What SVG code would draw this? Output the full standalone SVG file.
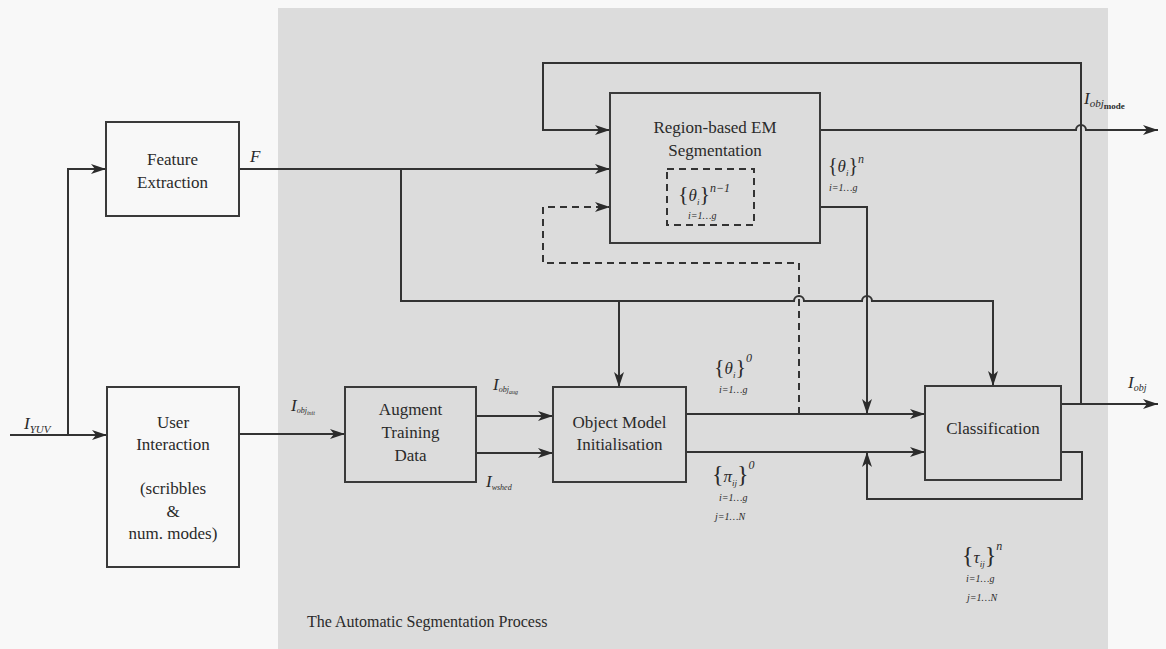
<svg xmlns="http://www.w3.org/2000/svg" width="1166" height="649" viewBox="0 0 1166 649">
<defs>
<marker id="arr" markerUnits="userSpaceOnUse" markerWidth="16" markerHeight="10" refX="15" refY="5" orient="auto">
<path d="M0,0 L15,5 L0,10 L4,5 z" fill="#2b2b2b"/>
</marker>
<style>
.box{fill:none;stroke:#3a3a3a;stroke-width:2}
.ln{fill:none;stroke:#333;stroke-width:2}
.dash{fill:none;stroke:#333;stroke-width:2;stroke-dasharray:7,5}
text{font-family:"Liberation Serif","DejaVu Serif","Times New Roman",serif;fill:#2a2a2a}
.t{font-size:17px;text-anchor:middle}
.m{font-style:italic;font-size:17px}
.s{font-style:italic;font-size:10px}
.cap{font-size:16px}
</style>
</defs>
<rect width="1166" height="649" fill="#f8f8f8"/>
<rect x="278" y="8" width="830" height="641" fill="#dcdcdc"/>

<g id="connectors">
<path class="ln" d="M10,435 H107" marker-end="url(#arr)"/>
<path class="ln" d="M68,435 V169 H106" marker-end="url(#arr)"/>
<path class="ln" d="M239,169 H610" marker-end="url(#arr)"/>
<path class="ln" d="M401,169 V301 H794 a5,5 0 0 1 10,0 H862 a5,5 0 0 1 10,0 H993 V386" marker-end="url(#arr)"/>
<path class="ln" d="M619,301 V387" marker-end="url(#arr)"/>
<path class="ln" d="M239,434 H345" marker-end="url(#arr)"/>
<path class="ln" d="M476,416 H553" marker-end="url(#arr)"/>
<path class="ln" d="M476,453 H553" marker-end="url(#arr)"/>
<path class="ln" d="M686,414 H925" marker-end="url(#arr)"/>
<path class="ln" d="M686,452 H925" marker-end="url(#arr)"/>
<path class="ln" d="M1061,404 H1158" marker-end="url(#arr)"/>
<path class="ln" d="M1081,404 V63 H543 V130 H610" marker-end="url(#arr)"/>
<path class="ln" d="M820,130 H1076 a5,5 0 0 1 10,0 H1158" marker-end="url(#arr)"/>
<path class="ln" d="M820,207 H867 V414" marker-end="url(#arr)"/>
<path class="dash" d="M799,414 V263 H543 V207 H610" marker-end="url(#arr)"/>
<path class="ln" d="M1061,452 H1082 V499 H867 V452" marker-end="url(#arr)"/>
</g>

<g id="feature-extraction">
<rect class="box" x="106" y="122" width="133" height="94" fill="#fafafa"/>
<text class="t" x="172.5" y="165">Feature</text>
<text class="t" x="172.5" y="188">Extraction</text>
</g>

<g id="user-interaction">
<rect class="box" x="107" y="387" width="132" height="180"/>
<text class="t" x="173" y="428">User</text>
<text class="t" x="173" y="450">Interaction</text>
<text class="t" x="173" y="494">(scribbles</text>
<text class="t" x="173" y="517">&amp;</text>
<text class="t" x="173" y="539">num.  modes)</text>
</g>

<g id="augment-training">
<rect class="box" x="345" y="387" width="131" height="95"/>
<text class="t" x="410.5" y="415">Augment</text>
<text class="t" x="410.5" y="438">Training</text>
<text class="t" x="410.5" y="461">Data</text>
</g>

<g id="object-model">
<rect class="box" x="553" y="387" width="133" height="95"/>
<text class="t" x="619.5" y="428">Object Model</text>
<text class="t" x="619.5" y="450">Initialisation</text>
</g>

<g id="region-em">
<rect class="box" x="610" y="93" width="210" height="150"/>
<text class="t" x="715" y="133">Region-based EM</text>
<text class="t" x="715" y="156">Segmentation</text>
<rect class="dash" x="667" y="169" width="87" height="56"/>
<text class="m" x="678" y="201"><tspan font-size="22" font-style="normal">{</tspan>θ<tspan font-size="9" dy="4">i</tspan><tspan dy="-4" font-size="22" font-style="normal">}</tspan><tspan font-size="12" dy="-9">n−1</tspan></text>
<text class="s" x="688" y="219">i=1…g</text>
</g>

<g id="classification">
<rect class="box" x="925" y="386" width="136" height="94"/>
<text class="t" x="993" y="434">Classification</text>
</g>

<g id="labels">
<text class="m" x="24" y="429">I<tspan font-size="11" dy="4">YUV</tspan></text>
<text class="m" x="250" y="162">F</text>
<text class="m" x="291" y="411" font-size="13">I<tspan font-size="8" dy="2">obj</tspan><tspan font-size="6" dy="2">init</tspan></text>
<text class="m" x="493" y="390" font-size="13">I<tspan font-size="8" dy="2">obj</tspan><tspan font-size="6" dy="2">aug</tspan></text>
<text class="m" x="486" y="487" font-size="13">I<tspan font-size="8" dy="3">wshed</tspan></text>
<text class="m" x="714" y="374"><tspan font-size="22" font-style="normal">{</tspan>θ<tspan font-size="9" dy="4">i</tspan><tspan dy="-4" font-size="22" font-style="normal">}</tspan><tspan font-size="12" dy="-12">0</tspan></text>
<text class="s" x="719" y="393">i=1…g</text>
<text class="m" x="712" y="482"><tspan font-size="24" font-style="normal">{</tspan>π<tspan font-size="9" dy="4">ij</tspan><tspan dy="-4" font-size="24" font-style="normal">}</tspan><tspan font-size="12" dy="-13">0</tspan></text>
<text class="s" x="719" y="501">i=1…g</text>
<text class="s" x="715" y="520">j=1…N</text>
<text class="m" x="962" y="563"><tspan font-size="24" font-style="normal">{</tspan>τ<tspan font-size="9" dy="4">ij</tspan><tspan dy="-4" font-size="24" font-style="normal">}</tspan><tspan font-size="12" dy="-13">n</tspan></text>
<text class="s" x="966" y="582">i=1…g</text>
<text class="s" x="967" y="601">j=1…N</text>
<text class="m" x="828" y="172"><tspan font-size="20" font-style="normal">{</tspan>θ<tspan font-size="9" dy="4">i</tspan><tspan dy="-4" font-size="20" font-style="normal">}</tspan><tspan font-size="12" dy="-9">n</tspan></text>
<text class="s" x="829" y="191">i=1…g</text>
<text class="m" x="1084" y="104" font-size="16">I<tspan font-size="11" dy="3">obj</tspan><tspan font-size="9" font-style="normal" font-weight="bold" dy="2">mode</tspan></text>
<text class="m" x="1128" y="388" font-size="15">I<tspan font-size="10" dy="3">obj</tspan></text>
<text class="cap" x="307" y="627">The Automatic Segmentation Process</text>
</g>
</svg>
